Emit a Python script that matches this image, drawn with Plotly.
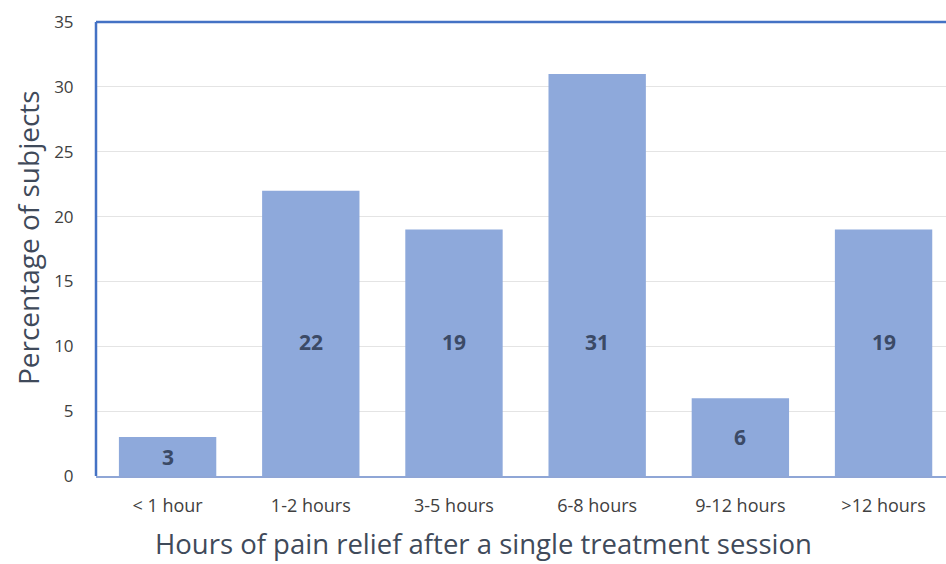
import plotly.graph_objects as go

# Share of subjects by duration of pain relief
categories = ["< 1 hour", "1-2 hours", "3-5 hours", "6-8 hours", "9-12 hours", ">12 hours"]
percentages = [3, 22, 19, 31, 6, 19]
y_ticks = [0, 5, 10, 15, 20, 25, 30, 35]
x_title = "Hours of pain relief after a single treatment session"
y_title = "Percentage of subjects"

BAR = "#8EA9DB"
FRAME = "#4472C4"
TEXT = "#404040"
TITLE = "#3F4A5A"
FONT = "'Open Sans', sans-serif"

fig = go.Figure(
    go.Bar(
        x=list(range(len(categories))),
        y=percentages,
        width=0.68,
        marker=dict(color=BAR, line=dict(width=0)),
        hoverinfo="skip",
    )
)

# Value labels: small bars get them at mid-height, tall bars at a common level
for i, v in enumerate(percentages):
    fig.add_annotation(
        x=i, y=v / 2 if v < 10 else 10.3, text=str(v), showarrow=False,
        font=dict(family=FONT, size=21, color="#3B4A66", weight="bold"),
        xref="x", yref="y",
    )

# Axis titles placed as free annotations (the x title is centred left of the plot middle)
fig.add_annotation(
    x=0.456, y=-0.149, xref="paper", yref="paper", text=x_title, showarrow=False,
    xanchor="center", yanchor="middle", font=dict(family=FONT, size=27.5, color=TITLE),
)
fig.add_annotation(
    x=-0.08, y=0.524, xref="paper", yref="paper", text=y_title, showarrow=False,
    textangle=-90, xanchor="center", yanchor="middle",
    font=dict(family=FONT, size=28, color=TITLE),
)

# Blue frame on the top and left edges of the plot area
fig.add_shape(type="line", xref="paper", yref="paper", x0=0, x1=1, y0=1, y1=1,
              line=dict(color=FRAME, width=2.5))
fig.add_shape(type="line", xref="paper", yref="paper", x0=0, x1=0, y0=0, y1=1,
              line=dict(color=FRAME, width=2.5))

fig.update_layout(
    width=946, height=564,
    margin=dict(l=96, r=0, t=22, b=88),
    paper_bgcolor="white", plot_bgcolor="white",
    showlegend=False,
    font=dict(family=FONT, color=TEXT),
    xaxis=dict(
        tickmode="array",
        tickvals=list(range(len(categories))),
        ticktext=categories,
        range=[-0.5, 5.436],
        showgrid=False, zeroline=False,
        showline=True, linecolor="#8FA6D6", linewidth=2,
        ticks="outside", ticklen=12, tickcolor="rgba(0,0,0,0)",
        tickfont=dict(size=18, color=TEXT),
    ),
    yaxis=dict(
        range=[0, 35],
        tickmode="array", tickvals=y_ticks,
        showgrid=True, gridcolor="#E4E4E4", gridwidth=1,
        zeroline=False, showline=False,
        ticks="outside", ticklen=18, tickcolor="rgba(0,0,0,0)",
        tickfont=dict(size=17, color=TEXT),
    ),
)

fig.write_html("out.html")
